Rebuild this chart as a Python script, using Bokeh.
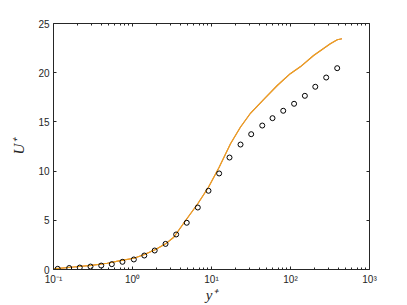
import math
from bokeh.plotting import figure
from bokeh.models import (Range1d, LogAxis, LinearAxis, FixedTicker,
                          CustomJSTickFormatter, ColumnDataSource)
from bokeh.embed import file_html
from bokeh.resources import INLINE

# ---- data ----
dns_yplus = [0.113, 0.158, 0.215, 0.294, 0.402, 0.547, 0.746, 1.04, 1.41, 1.91,
             2.62, 3.57, 4.86, 6.71, 9.16, 12.5, 16.9, 23.3, 31.8, 43.9,
             59.2, 80.9, 111, 152, 206, 283, 390]
dns_uplus = [0.07, 0.15, 0.2, 0.3, 0.4, 0.54, 0.78, 1.02, 1.42, 1.93,
             2.6, 3.56, 4.75, 6.3, 8.0, 9.76, 11.38, 12.7, 13.75, 14.63,
             15.38, 16.13, 16.84, 17.65, 18.57, 19.51, 20.46]

les_yplus = [0.1, 0.18, 0.3, 0.48, 0.7, 1.04, 1.39, 1.96, 2.62, 3.33,
             4.7, 6.7, 9.15, 12.5, 17.4, 23.2, 31.3, 45.9, 68, 99.4,
             133, 196, 319, 391, 448]
les_uplus = [0.06, 0.25, 0.42, 0.64, 0.9, 1.15, 1.49, 2.03, 2.61, 3.28,
             4.98, 6.68, 8.36, 10.4, 12.77, 14.46, 15.9, 17.3, 18.7, 19.9,
             20.6, 21.75, 22.94, 23.34, 23.45]

x_ticks = [0.1, 1, 10, 100, 1000]
x_tick_labels = ["10\u207b\u00b9", "10\u2070", "10\u00b9", "10\u00b2", "10\u00b3"]
y_ticks = [0, 5, 10, 15, 20, 25]

x_minor = [m * d for d in [0.1, 1, 10, 100] for m in range(2, 10)]

AX = "#262626"
FONT = "Liberation Sans"

p = figure(width=405, height=305, x_axis_type="log",
           x_range=Range1d(0.1, 1000), y_range=Range1d(0, 25),
           output_backend="svg", toolbar_location=None,
           min_border_left=53, min_border_right=36,
           min_border_top=23, min_border_bottom=36)
p.xgrid.visible = False
p.ygrid.visible = False
p.outline_line_color = None
p.background_fill_color = "white"
p.border_fill_color = "white"

fmt = CustomJSTickFormatter(args=dict(tvals=x_ticks, tlabels=x_tick_labels), code="""
let best = 0, bd = 1e9;
for (let i = 0; i < tvals.length; i++) {
  const d = Math.abs(Math.log10(tick) - Math.log10(tvals[i]));
  if (d < bd) { bd = d; best = i; }
}
return tlabels[best];
""")

def style(ax):
    ax.axis_line_color = AX
    ax.axis_line_width = 1
    ax.major_tick_line_color = AX
    ax.minor_tick_line_color = AX
    ax.major_tick_in = 3
    ax.major_tick_out = 0
    ax.minor_tick_in = 2
    ax.minor_tick_out = 0
    ax.major_label_text_font = FONT
    ax.major_label_text_font_size = "10px"
    ax.major_label_text_color = "#262626"
    ax.major_label_standoff = 4

# bottom axis
xb = p.xaxis[0]
xb.ticker = FixedTicker(ticks=x_ticks, minor_ticks=x_minor)
xb.formatter = fmt
style(xb)
xb.axis_label = "y\u207a"
xb.axis_label_text_font = "Liberation Serif"
xb.axis_label_text_font_style = "italic"
xb.axis_label_text_font_size = "15px"
xb.axis_label_text_color = "#262626"
xb.axis_label_standoff = -1

# left axis
yl = p.yaxis[0]
yl.ticker = FixedTicker(ticks=y_ticks)
style(yl)
yl.axis_label = "U\u207a"
yl.axis_label_text_font = "Liberation Serif"
yl.axis_label_text_font_style = "italic"
yl.axis_label_text_font_size = "15px"
yl.axis_label_text_color = "#262626"
yl.axis_label_standoff = 8

# top and right box axes (ticks only, no labels)
xt = LogAxis(ticker=FixedTicker(ticks=x_ticks, minor_ticks=x_minor))
style(xt)
xt.major_label_text_alpha = 0
xt.major_label_text_font_size = "1px"
xt.major_label_standoff = 0
p.add_layout(xt, "above")
yr = LinearAxis(ticker=FixedTicker(ticks=y_ticks))
style(yr)
yr.major_label_text_alpha = 0
yr.major_label_text_font_size = "1px"
yr.major_label_standoff = 0
p.add_layout(yr, "right")

les = ColumnDataSource(dict(x=les_yplus, y=les_uplus))
dns = ColumnDataSource(dict(x=dns_yplus, y=dns_uplus))

p.line("x", "y", source=les, line_color="#D95319", line_width=1.1)
p.line("x", "y", source=les, line_color="#EDB120", line_width=1.1, line_alpha=0.85)
p.scatter("x", "y", source=dns, marker="circle", size=5, fill_color=None,
          line_color="black", line_width=1)

open("out.html", "w").write(file_html(p, INLINE))
